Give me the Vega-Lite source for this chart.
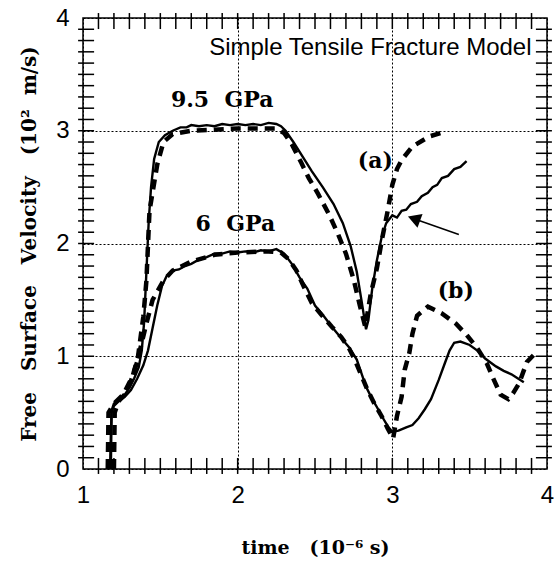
{
  "$schema": "https://vega.github.io/schema/vega-lite/v6.json",
  "width": 464,
  "height": 451,
  "autosize": "none",
  "padding": {"left": 83, "top": 18, "right": 7, "bottom": 97},
  "background": "white",
  "config": {"view": {"stroke": "black", "strokeWidth": 1.5}},
  "datasets": {
    "exp": [
      {"s": "9.5", "t": 1.175, "v": 0},
      {"s": "9.5", "t": 1.18, "v": 0.3},
      {"s": "9.5", "t": 1.185, "v": 0.52},
      {"s": "9.5", "t": 1.2, "v": 0.58},
      {"s": "9.5", "t": 1.22, "v": 0.6},
      {"s": "9.5", "t": 1.24, "v": 0.63},
      {"s": "9.5", "t": 1.27, "v": 0.66},
      {"s": "9.5", "t": 1.3, "v": 0.72},
      {"s": "9.5", "t": 1.33, "v": 0.8},
      {"s": "9.5", "t": 1.36, "v": 0.9},
      {"s": "9.5", "t": 1.38, "v": 1.05},
      {"s": "9.5", "t": 1.395, "v": 1.3},
      {"s": "9.5", "t": 1.405, "v": 1.6},
      {"s": "9.5", "t": 1.415, "v": 1.9},
      {"s": "9.5", "t": 1.425, "v": 2.2},
      {"s": "9.5", "t": 1.44, "v": 2.5},
      {"s": "9.5", "t": 1.46, "v": 2.75},
      {"s": "9.5", "t": 1.49, "v": 2.9},
      {"s": "9.5", "t": 1.53, "v": 2.96},
      {"s": "9.5", "t": 1.58, "v": 3.0},
      {"s": "9.5", "t": 1.63, "v": 3.03},
      {"s": "9.5", "t": 1.67, "v": 3.03},
      {"s": "9.5", "t": 1.7, "v": 3.05},
      {"s": "9.5", "t": 1.75, "v": 3.04},
      {"s": "9.5", "t": 1.8, "v": 3.05},
      {"s": "9.5", "t": 1.85, "v": 3.04},
      {"s": "9.5", "t": 1.9, "v": 3.06},
      {"s": "9.5", "t": 1.95, "v": 3.05},
      {"s": "9.5", "t": 2.0, "v": 3.06},
      {"s": "9.5", "t": 2.05, "v": 3.05},
      {"s": "9.5", "t": 2.1, "v": 3.06},
      {"s": "9.5", "t": 2.15, "v": 3.05},
      {"s": "9.5", "t": 2.2, "v": 3.07},
      {"s": "9.5", "t": 2.25, "v": 3.06},
      {"s": "9.5", "t": 2.28, "v": 3.04},
      {"s": "9.5", "t": 2.31, "v": 3.0},
      {"s": "9.5", "t": 2.36, "v": 2.9},
      {"s": "9.5", "t": 2.42, "v": 2.77},
      {"s": "9.5", "t": 2.48, "v": 2.64},
      {"s": "9.5", "t": 2.55, "v": 2.5},
      {"s": "9.5", "t": 2.62, "v": 2.35},
      {"s": "9.5", "t": 2.68, "v": 2.18},
      {"s": "9.5", "t": 2.73, "v": 1.98},
      {"s": "9.5", "t": 2.77, "v": 1.75},
      {"s": "9.5", "t": 2.8, "v": 1.5},
      {"s": "9.5", "t": 2.83, "v": 1.24},
      {"s": "9.5", "t": 2.845, "v": 1.32},
      {"s": "9.5", "t": 2.87, "v": 1.6},
      {"s": "9.5", "t": 2.9, "v": 1.85},
      {"s": "9.5", "t": 2.93, "v": 2.05},
      {"s": "9.5", "t": 2.96, "v": 2.18},
      {"s": "9.5", "t": 3.0, "v": 2.25},
      {"s": "9.5", "t": 3.03, "v": 2.23},
      {"s": "9.5", "t": 3.06, "v": 2.29},
      {"s": "9.5", "t": 3.09, "v": 2.3},
      {"s": "9.5", "t": 3.12, "v": 2.35},
      {"s": "9.5", "t": 3.16, "v": 2.37},
      {"s": "9.5", "t": 3.19, "v": 2.42},
      {"s": "9.5", "t": 3.23, "v": 2.45},
      {"s": "9.5", "t": 3.26, "v": 2.5},
      {"s": "9.5", "t": 3.29, "v": 2.52},
      {"s": "9.5", "t": 3.32, "v": 2.58},
      {"s": "9.5", "t": 3.36, "v": 2.6},
      {"s": "9.5", "t": 3.4, "v": 2.66},
      {"s": "9.5", "t": 3.44, "v": 2.68},
      {"s": "9.5", "t": 3.48, "v": 2.73},
      {"s": "6", "t": 1.18, "v": 0},
      {"s": "6", "t": 1.185, "v": 0.5},
      {"s": "6", "t": 1.2, "v": 0.56},
      {"s": "6", "t": 1.23, "v": 0.6},
      {"s": "6", "t": 1.27, "v": 0.64},
      {"s": "6", "t": 1.31, "v": 0.7},
      {"s": "6", "t": 1.35, "v": 0.8},
      {"s": "6", "t": 1.39, "v": 0.92},
      {"s": "6", "t": 1.42, "v": 1.05},
      {"s": "6", "t": 1.45, "v": 1.25},
      {"s": "6", "t": 1.48, "v": 1.45},
      {"s": "6", "t": 1.51, "v": 1.62},
      {"s": "6", "t": 1.54, "v": 1.71},
      {"s": "6", "t": 1.58, "v": 1.76},
      {"s": "6", "t": 1.62, "v": 1.77},
      {"s": "6", "t": 1.66, "v": 1.8},
      {"s": "6", "t": 1.7, "v": 1.82},
      {"s": "6", "t": 1.74, "v": 1.85},
      {"s": "6", "t": 1.8, "v": 1.88},
      {"s": "6", "t": 1.85, "v": 1.91},
      {"s": "6", "t": 1.9, "v": 1.91},
      {"s": "6", "t": 1.95, "v": 1.93},
      {"s": "6", "t": 2.0, "v": 1.92},
      {"s": "6", "t": 2.05, "v": 1.93},
      {"s": "6", "t": 2.1, "v": 1.92},
      {"s": "6", "t": 2.15, "v": 1.94},
      {"s": "6", "t": 2.2, "v": 1.93},
      {"s": "6", "t": 2.25, "v": 1.95},
      {"s": "6", "t": 2.3, "v": 1.91},
      {"s": "6", "t": 2.35, "v": 1.82},
      {"s": "6", "t": 2.4, "v": 1.7},
      {"s": "6", "t": 2.45, "v": 1.6},
      {"s": "6", "t": 2.5, "v": 1.45},
      {"s": "6", "t": 2.56, "v": 1.35},
      {"s": "6", "t": 2.61, "v": 1.26},
      {"s": "6", "t": 2.67, "v": 1.16},
      {"s": "6", "t": 2.72, "v": 1.08},
      {"s": "6", "t": 2.77, "v": 0.97},
      {"s": "6", "t": 2.8, "v": 0.85},
      {"s": "6", "t": 2.83, "v": 0.73},
      {"s": "6", "t": 2.87, "v": 0.62},
      {"s": "6", "t": 2.9, "v": 0.55},
      {"s": "6", "t": 2.94, "v": 0.45},
      {"s": "6", "t": 2.97, "v": 0.38},
      {"s": "6", "t": 3.0, "v": 0.33},
      {"s": "6", "t": 3.04, "v": 0.34},
      {"s": "6", "t": 3.09, "v": 0.37},
      {"s": "6", "t": 3.13, "v": 0.39},
      {"s": "6", "t": 3.17, "v": 0.45},
      {"s": "6", "t": 3.21, "v": 0.53},
      {"s": "6", "t": 3.25, "v": 0.62},
      {"s": "6", "t": 3.3, "v": 0.79},
      {"s": "6", "t": 3.34, "v": 0.94},
      {"s": "6", "t": 3.37, "v": 1.05},
      {"s": "6", "t": 3.4, "v": 1.12},
      {"s": "6", "t": 3.44, "v": 1.13},
      {"s": "6", "t": 3.5, "v": 1.1},
      {"s": "6", "t": 3.55, "v": 1.05},
      {"s": "6", "t": 3.6, "v": 0.98},
      {"s": "6", "t": 3.67, "v": 0.91},
      {"s": "6", "t": 3.72, "v": 0.87},
      {"s": "6", "t": 3.77, "v": 0.84},
      {"s": "6", "t": 3.85, "v": 0.77}
    ],
    "model": [
      {"s": "9.5", "t": 1.16, "v": 0},
      {"s": "9.5", "t": 1.165, "v": 0.5},
      {"s": "9.5", "t": 1.2, "v": 0.58},
      {"s": "9.5", "t": 1.26, "v": 0.66},
      {"s": "9.5", "t": 1.32, "v": 0.82},
      {"s": "9.5", "t": 1.355, "v": 0.99},
      {"s": "9.5", "t": 1.39, "v": 1.35},
      {"s": "9.5", "t": 1.41, "v": 1.67},
      {"s": "9.5", "t": 1.43, "v": 2.29},
      {"s": "9.5", "t": 1.48, "v": 2.7},
      {"s": "9.5", "t": 1.52, "v": 2.9},
      {"s": "9.5", "t": 1.58, "v": 2.97},
      {"s": "9.5", "t": 1.7, "v": 3.0},
      {"s": "9.5", "t": 2.0, "v": 3.02},
      {"s": "9.5", "t": 2.25, "v": 3.02},
      {"s": "9.5", "t": 2.3, "v": 2.98},
      {"s": "9.5", "t": 2.35, "v": 2.88},
      {"s": "9.5", "t": 2.41, "v": 2.72},
      {"s": "9.5", "t": 2.46, "v": 2.58},
      {"s": "9.5", "t": 2.52, "v": 2.44},
      {"s": "9.5", "t": 2.59, "v": 2.26},
      {"s": "9.5", "t": 2.65, "v": 2.08},
      {"s": "9.5", "t": 2.7, "v": 1.91},
      {"s": "9.5", "t": 2.75, "v": 1.68},
      {"s": "9.5", "t": 2.79, "v": 1.45},
      {"s": "9.5", "t": 2.825, "v": 1.26},
      {"s": "9.5", "t": 2.86, "v": 1.55},
      {"s": "9.5", "t": 2.9, "v": 1.78},
      {"s": "9.5", "t": 2.935, "v": 2.05},
      {"s": "9.5", "t": 2.97, "v": 2.29},
      {"s": "9.5", "t": 3.0, "v": 2.52},
      {"s": "9.5", "t": 3.03, "v": 2.66},
      {"s": "9.5", "t": 3.06, "v": 2.74},
      {"s": "9.5", "t": 3.13, "v": 2.86},
      {"s": "9.5", "t": 3.24, "v": 2.95},
      {"s": "9.5", "t": 3.34, "v": 2.99},
      {"s": "6", "t": 1.2, "v": 0},
      {"s": "6", "t": 1.205, "v": 0.5},
      {"s": "6", "t": 1.23, "v": 0.6},
      {"s": "6", "t": 1.27, "v": 0.66},
      {"s": "6", "t": 1.31, "v": 0.78},
      {"s": "6", "t": 1.35, "v": 0.95},
      {"s": "6", "t": 1.38, "v": 1.12},
      {"s": "6", "t": 1.41, "v": 1.29},
      {"s": "6", "t": 1.45, "v": 1.5},
      {"s": "6", "t": 1.52, "v": 1.67},
      {"s": "6", "t": 1.58, "v": 1.76},
      {"s": "6", "t": 1.7, "v": 1.84},
      {"s": "6", "t": 1.85, "v": 1.9},
      {"s": "6", "t": 2.0, "v": 1.92},
      {"s": "6", "t": 2.2, "v": 1.93},
      {"s": "6", "t": 2.28, "v": 1.92},
      {"s": "6", "t": 2.33, "v": 1.86},
      {"s": "6", "t": 2.38, "v": 1.76},
      {"s": "6", "t": 2.42, "v": 1.64},
      {"s": "6", "t": 2.48, "v": 1.47},
      {"s": "6", "t": 2.54, "v": 1.37},
      {"s": "6", "t": 2.61, "v": 1.26},
      {"s": "6", "t": 2.67, "v": 1.17},
      {"s": "6", "t": 2.72, "v": 1.07},
      {"s": "6", "t": 2.76, "v": 0.96},
      {"s": "6", "t": 2.8, "v": 0.83},
      {"s": "6", "t": 2.84, "v": 0.7},
      {"s": "6", "t": 2.88, "v": 0.59},
      {"s": "6", "t": 2.93, "v": 0.47},
      {"s": "6", "t": 2.97, "v": 0.36},
      {"s": "6", "t": 3.005, "v": 0.27},
      {"s": "6", "t": 3.03, "v": 0.47},
      {"s": "6", "t": 3.06, "v": 0.64},
      {"s": "6", "t": 3.08, "v": 0.88},
      {"s": "6", "t": 3.11, "v": 1.03},
      {"s": "6", "t": 3.13, "v": 1.2},
      {"s": "6", "t": 3.16, "v": 1.36},
      {"s": "6", "t": 3.23, "v": 1.44},
      {"s": "6", "t": 3.32, "v": 1.38},
      {"s": "6", "t": 3.41, "v": 1.29},
      {"s": "6", "t": 3.48, "v": 1.19},
      {"s": "6", "t": 3.55, "v": 1.07},
      {"s": "6", "t": 3.61, "v": 0.94},
      {"s": "6", "t": 3.65, "v": 0.81},
      {"s": "6", "t": 3.7, "v": 0.66},
      {"s": "6", "t": 3.75, "v": 0.62},
      {"s": "6", "t": 3.78, "v": 0.67},
      {"s": "6", "t": 3.82, "v": 0.76},
      {"s": "6", "t": 3.87, "v": 0.95},
      {"s": "6", "t": 3.92, "v": 1.02}
    ],
    "xticks": [
      {"t": 1.1}, {"t": 1.2}, {"t": 1.3}, {"t": 1.4}, {"t": 1.5}, {"t": 1.6}, {"t": 1.7}, {"t": 1.8}, {"t": 1.9}, {"t": 2.0},
      {"t": 2.1}, {"t": 2.2}, {"t": 2.3}, {"t": 2.4}, {"t": 2.5}, {"t": 2.6}, {"t": 2.7}, {"t": 2.8}, {"t": 2.9}, {"t": 3.0},
      {"t": 3.1}, {"t": 3.2}, {"t": 3.3}, {"t": 3.4}, {"t": 3.5}, {"t": 3.6}, {"t": 3.7}, {"t": 3.8}, {"t": 3.9}
    ],
    "yticks": [
      {"v": 0.1}, {"v": 0.2}, {"v": 0.3}, {"v": 0.4}, {"v": 0.5}, {"v": 0.6}, {"v": 0.7}, {"v": 0.8}, {"v": 0.9}, {"v": 1.0},
      {"v": 1.1}, {"v": 1.2}, {"v": 1.3}, {"v": 1.4}, {"v": 1.5}, {"v": 1.6}, {"v": 1.7}, {"v": 1.8}, {"v": 1.9}, {"v": 2.0},
      {"v": 2.1}, {"v": 2.2}, {"v": 2.3}, {"v": 2.4}, {"v": 2.5}, {"v": 2.6}, {"v": 2.7}, {"v": 2.8}, {"v": 2.9}, {"v": 3.0},
      {"v": 3.1}, {"v": 3.2}, {"v": 3.3}, {"v": 3.4}, {"v": 3.5}, {"v": 3.6}, {"v": 3.7}, {"v": 3.8}, {"v": 3.9}
    ],
    "labels": [
      {"t": 1.9, "v": 3.21, "txt": "9.5\u00a0\u00a0GPa"},
      {"t": 1.985, "v": 2.11, "txt": "6\u00a0\u00a0GPa"},
      {"t": 2.89, "v": 2.67, "txt": "(a)"},
      {"t": 3.41, "v": 1.52, "txt": "(b)"}
    ],
    "heading": [
      {"t": 3.9, "v": 3.67, "txt": "Simple Tensile Fracture Model"}
    ],
    "arrow": [
      {"t": 3.43, "v": 2.08, "t2": 3.14, "v2": 2.22}
    ],
    "arrowhead": [
      {"t": 3.14, "v": 2.22}
    ]
  },
  "layer": [
    {
      "data": {"name": "exp"},
      "mark": {"type": "line", "color": "black", "strokeWidth": 2.4},
      "encoding": {
        "x": {
          "field": "t", "type": "quantitative",
          "scale": {"domain": [1, 4], "nice": false, "zero": false},
          "axis": {
            "orient": "bottom",
            "values": [1, 2, 3, 4],
            "domain": false,
            "ticks": false,
            "format": "d",
            "labelFont": "Liberation Sans", "labelFontSize": 24, "labelColor": "black",
            "labelPadding": 14, "labelFlush": false, "labelOverlap": false,
            "grid": true, "gridColor": "black", "gridDash": [2, 2], "gridWidth": 1,
            "title": "time\u00a0\u00a0\u00a0(10\u207b\u2076 s)",
            "titleFont": "DejaVu Serif", "titleFontWeight": "bold", "titleFontSize": 19, "titleColor": "black",
            "titleY": 84, "titleBaseline": "alphabetic"
          }
        },
        "y": {
          "field": "v", "type": "quantitative",
          "scale": {"domain": [0, 4], "nice": false, "zero": false},
          "axis": {
            "orient": "left",
            "values": [0, 1, 2, 3, 4],
            "domain": false,
            "ticks": false,
            "format": "d",
            "labelFont": "Liberation Sans", "labelFontSize": 24, "labelColor": "black",
            "labelPadding": 14, "labelFlush": false, "labelOverlap": false,
            "grid": true, "gridColor": "black", "gridDash": [2, 2], "gridWidth": 1,
            "title": "Free\u00a0\u00a0\u00a0Surface\u00a0\u00a0\u00a0Velocity\u00a0\u00a0\u00a0(10\u00b2\u00a0\u00a0m/s)",
            "titleFont": "DejaVu Serif", "titleFontWeight": "bold", "titleFontSize": 20, "titleColor": "black",
            "titleX": -48, "titleBaseline": "alphabetic", "titleAngle": -90
          }
        },
        "detail": {"field": "s", "type": "nominal"}
      }
    },
    {
      "data": {"name": "model"},
      "mark": {"type": "line", "color": "black", "strokeWidth": 4.5, "strokeDash": [10, 7]},
      "encoding": {
        "x": {"field": "t", "type": "quantitative"},
        "y": {"field": "v", "type": "quantitative"},
        "detail": {"field": "s", "type": "nominal"}
      }
    },
    {
      "data": {"name": "xticks"},
      "mark": {"type": "tick", "orient": "vertical", "color": "black", "size": 16, "thickness": 1.5, "opacity": 1},
      "encoding": {
        "x": {"field": "t", "type": "quantitative"},
        "y": {"datum": 0.027, "type": "quantitative"}
      }
    },
    {
      "data": {"name": "xticks"},
      "mark": {"type": "tick", "orient": "vertical", "color": "black", "size": 16, "thickness": 1.5, "opacity": 1},
      "encoding": {
        "x": {"field": "t", "type": "quantitative"},
        "y": {"datum": 3.973, "type": "quantitative"}
      }
    },
    {
      "data": {"name": "yticks"},
      "mark": {"type": "tick", "orient": "horizontal", "color": "black", "size": 16, "thickness": 1.5, "opacity": 1},
      "encoding": {
        "y": {"field": "v", "type": "quantitative"},
        "x": {"datum": 1.02, "type": "quantitative"}
      }
    },
    {
      "data": {"name": "yticks"},
      "mark": {"type": "tick", "orient": "horizontal", "color": "black", "size": 16, "thickness": 1.5, "opacity": 1},
      "encoding": {
        "y": {"field": "v", "type": "quantitative"},
        "x": {"datum": 3.98, "type": "quantitative"}
      }
    },
    {
      "data": {"name": "arrow"},
      "mark": {"type": "rule", "color": "black", "strokeWidth": 1.5},
      "encoding": {
        "x": {"field": "t", "type": "quantitative"},
        "y": {"field": "v", "type": "quantitative"},
        "x2": {"field": "t2"},
        "y2": {"field": "v2"}
      }
    },
    {
      "data": {"name": "arrowhead"},
      "mark": {"type": "point", "shape": "triangle-left", "filled": true, "color": "black", "size": 220, "angle": 20, "opacity": 1},
      "encoding": {
        "x": {"field": "t", "type": "quantitative"},
        "y": {"field": "v", "type": "quantitative"}
      }
    },
    {
      "data": {"name": "labels"},
      "mark": {"type": "text", "font": "DejaVu Serif", "fontWeight": "bold", "fontSize": 22, "color": "black", "align": "center", "baseline": "alphabetic"},
      "encoding": {
        "x": {"field": "t", "type": "quantitative"},
        "y": {"field": "v", "type": "quantitative"},
        "text": {"field": "txt"}
      }
    },
    {
      "data": {"name": "heading"},
      "mark": {"type": "text", "font": "Liberation Sans", "fontSize": 24, "color": "black", "align": "right", "baseline": "alphabetic"},
      "encoding": {
        "x": {"field": "t", "type": "quantitative"},
        "y": {"field": "v", "type": "quantitative"},
        "text": {"field": "txt"}
      }
    }
  ]
}
